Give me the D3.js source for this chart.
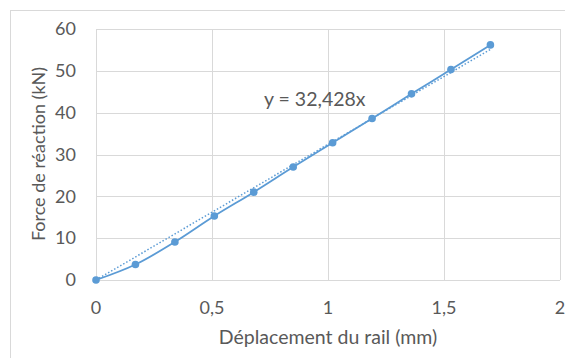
<!DOCTYPE html>
<html>
<head>
<meta charset="utf-8">
<script src="https://cdn.jsdelivr.net/npm/d3@7"></script>
<style>
  body { margin: 0; background: #fff; }
  text { font-family: Lato, "Open Sans", sans-serif; fill: #595959; }
</style>
</head>
<body>
<div id="chart"></div>
<script>
// measured points (displacement in mm, force in kN)
const deplacement = [0, 0.17, 0.34, 0.51, 0.68, 0.85, 1.02, 1.19, 1.36, 1.53, 1.70];
const force = [0, 3.7, 9.1, 15.3, 21.0, 27.0, 32.8, 38.6, 44.5, 50.3, 56.2];
const xTicks = [0, 0.5, 1, 1.5, 2];
const yTicks = [0, 10, 20, 30, 40, 50, 60];
const slope = 32.428; // linear trend through origin

const width = 565, height = 358;
const margin = { top: 29, right: 5, bottom: 78, left: 96 };
const blue = '#5B9BD5';

const svg = d3.select('#chart').append('svg')
    .attr('width', width)
    .attr('height', height);

// chart frame
svg.append('rect')
    .attr('x', 10.5).attr('y', 10.5)
    .attr('width', 600).attr('height', 400)
    .attr('fill', 'none').attr('stroke', '#d9d9d9');

const x = d3.scaleLinear().domain([0, 2]).range([margin.left, width - margin.right]);
const y = d3.scaleLinear().domain([0, 60]).range([height - margin.bottom, margin.top]);

// gridlines
svg.append('g').selectAll('line.h')
    .data(yTicks).enter().append('line')
    .attr('x1', x(0)).attr('x2', x(2))
    .attr('y1', d => Math.round(y(d)) + 0.5).attr('y2', d => Math.round(y(d)) + 0.5)
    .attr('stroke', '#d9d9d9').attr('stroke-width', 1);
svg.append('g').selectAll('line.v')
    .data(xTicks).enter().append('line')
    .attr('y1', y(0)).attr('y2', y(60))
    .attr('x1', d => Math.round(x(d)) + 0.5).attr('x2', d => Math.round(x(d)) + 0.5)
    .attr('stroke', '#d9d9d9').attr('stroke-width', 1);

const fmt = d => String(d).replace('.', ',');

// tick labels
svg.append('g').selectAll('text')
    .data(yTicks).enter().append('text')
    .attr('x', 76).attr('y', d => y(d)).attr('dy', '0.35em')
    .attr('text-anchor', 'end').style('font-size', '18px')
    .text(d => d);
svg.append('g').selectAll('text')
    .data(xTicks).enter().append('text')
    .attr('x', d => x(d)).attr('y', 308).attr('dy', '0.35em')
    .attr('text-anchor', 'middle').style('font-size', '18px')
    .text(fmt);

// axis titles
svg.append('text')
    .attr('x', 328).attr('y', 337).attr('dy', '0.35em')
    .attr('text-anchor', 'middle').style('font-size', '19.5px')
    .text('Déplacement du rail (mm)');
svg.append('text')
    .attr('transform', 'translate(38.5,154) rotate(-90)')
    .attr('dy', '0.35em')
    .attr('text-anchor', 'middle').style('font-size', '18px')
    .text('Force de réaction (kN)');

// trend line (dotted)
svg.append('line')
    .attr('x1', x(0)).attr('y1', y(0))
    .attr('x2', x(d3.max(deplacement))).attr('y2', y(slope * d3.max(deplacement)))
    .attr('stroke', blue).attr('stroke-width', 1.5)
    .attr('stroke-dasharray', '1.5,2');

const pts = deplacement.map((d, i) => ({ x: d, y: force[i] }));

// smoothed series line
const line = d3.line()
    .x(d => x(d.x)).y(d => y(d.y))
    .curve(d3.curveCatmullRom.alpha(0.5));
svg.append('path')
    .datum(pts)
    .attr('d', line)
    .attr('fill', 'none')
    .attr('stroke', blue).attr('stroke-width', 1.8);

// markers
svg.append('g').selectAll('circle')
    .data(pts).enter().append('circle')
    .attr('cx', d => x(d.x)).attr('cy', d => y(d.y))
    .attr('r', 3.8)
    .attr('fill', blue);

// trend equation
svg.append('text')
    .attr('x', 264).attr('y', 106)
    .style('font-size', '19.5px')
    .text('y = 32,428x');
</script>
</body>
</html>
